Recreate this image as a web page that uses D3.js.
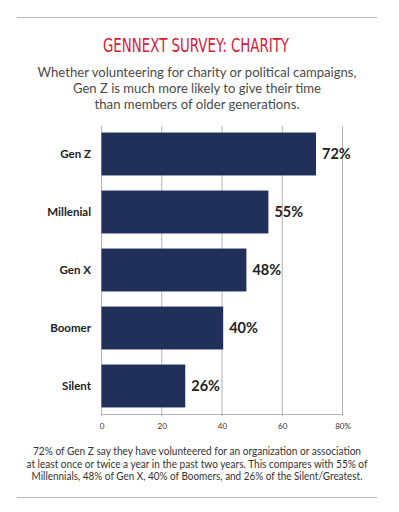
<!DOCTYPE html>
<html>
<head>
<meta charset="utf-8">
<script src="https://cdn.jsdelivr.net/npm/d3@7"></script>
<style>
  body { margin: 0; background: #fff; }
  svg { display: block; }
</style>
</head>
<body>
<figure id="chart" style="margin:0"></figure>
<script>
// data
const categories = ["Gen Z", "Millenial", "Gen X", "Boomer", "Silent"];
const barValues = [71.2, 55.4, 48.1, 40.4, 27.8];   // bar lengths as drawn
const valueLabels = ["72%", "55%", "48%", "40%", "26%"];
const ticks = [0, 20, 40, 60, 80];
const tickLabels = ["0", "20", "40", "60", "80%"];

const title = "GENNEXT SURVEY: CHARITY";
const subtitle = [
  "Whether volunteering for charity or political campaigns,",
  "Gen Z is much more likely to give their time",
  "than members of older generations."
];
const note = [
  "72% of Gen Z say they have volunteered for an organization or association",
  "at least once or twice a year in the past two years. This compares with 55% of",
  "Millennials, 48% of Gen X, 40% of Boomers, and 26% of the Silent/Greatest."
];

const width = 399, height = 512;
const bodyFont = "Lato, 'Open Sans', sans-serif";

const svg = d3.select("#chart").append("svg")
  .attr("width", width)
  .attr("height", height);

// top and bottom rules
svg.append("line")
  .attr("x1", 17).attr("x2", 377).attr("y1", 17.5).attr("y2", 17.5)
  .attr("stroke", "#b5b5b5").attr("stroke-width", 1);
svg.append("line")
  .attr("x1", 17).attr("x2", 377).attr("y1", 497.5).attr("y2", 497.5)
  .attr("stroke", "#b5b5b5").attr("stroke-width", 1);

svg.append("text")
  .text(title)
  .attr("x", 196).attr("y", 52)
  .attr("text-anchor", "middle")
  .attr("fill", "#d71a3b")
  .attr("font-family", "'Liberation Sans Narrow', 'DejaVu Sans Condensed', sans-serif")
  .attr("font-size", "20px")
  .attr("textLength", 186)
  .attr("lengthAdjust", "spacingAndGlyphs");

const subWidths = [319, 248, 205];
svg.selectAll("text.sub")
  .data(subtitle)
  .join("text")
  .attr("class", "sub")
  .text(d => d)
  .attr("x", 197)
  .attr("y", (d, i) => 77 + i * 16)
  .attr("text-anchor", "middle")
  .attr("fill", "#4a4a4a")
  .attr("font-family", bodyFont)
  .attr("font-size", "14px")
  .attr("textLength", (d, i) => subWidths[i])
  .attr("lengthAdjust", "spacingAndGlyphs");

const x = d3.scaleLinear().domain([0, 80]).range([101.5, 342.5]);
const y = d3.scaleBand().domain(categories)
  .range([125, 415])
  .paddingInner(0.26)
  .paddingOuter(0.13);

// grid lines
svg.selectAll("line.grid")
  .data(ticks)
  .join("line")
  .attr("class", "grid")
  .attr("x1", d => x(d)).attr("x2", d => x(d))
  .attr("y1", 126).attr("y2", 416)
  .attr("stroke", "#b3b3b3").attr("stroke-width", 1);

svg.append("line")
  .attr("x1", x(0)).attr("x2", x(80))
  .attr("y1", 414.5).attr("y2", 414.5)
  .attr("stroke", "#b3b3b3").attr("stroke-width", 1);

svg.selectAll("text.tick")
  .data(ticks)
  .join("text")
  .attr("class", "tick")
  .text((d, i) => tickLabels[i])
  .attr("x", d => x(d) + 0.5)
  .attr("y", 429)
  .attr("text-anchor", "middle")
  .attr("fill", "#333")
  .attr("font-family", bodyFont)
  .attr("font-size", "8px");

// bars
svg.selectAll("rect.bar")
  .data(categories)
  .join("rect")
  .attr("class", "bar")
  .attr("x", x(0))
  .attr("y", d => y(d))
  .attr("width", (d, i) => x(barValues[i]) - x(0))
  .attr("height", y.bandwidth())
  .attr("fill", "#20305b");

svg.selectAll("text.cat")
  .data(categories)
  .join("text")
  .attr("class", "cat")
  .text(d => d)
  .attr("x", 91)
  .attr("y", d => y(d) + y.bandwidth() / 2 + 4)
  .attr("text-anchor", "end")
  .attr("fill", "#222")
  .attr("font-family", bodyFont)
  .attr("font-weight", "bold")
  .attr("font-size", "11.5px");

svg.selectAll("text.val")
  .data(categories)
  .join("text")
  .attr("class", "val")
  .text((d, i) => valueLabels[i])
  .attr("x", (d, i) => x(barValues[i]) + 6)
  .attr("y", d => y(d) + y.bandwidth() / 2 + 5)
  .attr("fill", "#222")
  .attr("font-family", bodyFont)
  .attr("font-weight", "bold")
  .attr("font-size", "14.5px");

const noteWidths = [328, 341, 331];
svg.selectAll("text.note")
  .data(note)
  .join("text")
  .attr("class", "note")
  .text(d => d)
  .attr("x", 197)
  .attr("y", (d, i) => 455 + i * 12.5)
  .attr("text-anchor", "middle")
  .attr("fill", "#333")
  .attr("font-family", bodyFont)
  .attr("font-size", "10.5px")
  .attr("textLength", (d, i) => noteWidths[i])
  .attr("lengthAdjust", "spacingAndGlyphs");
</script>
</body>
</html>
